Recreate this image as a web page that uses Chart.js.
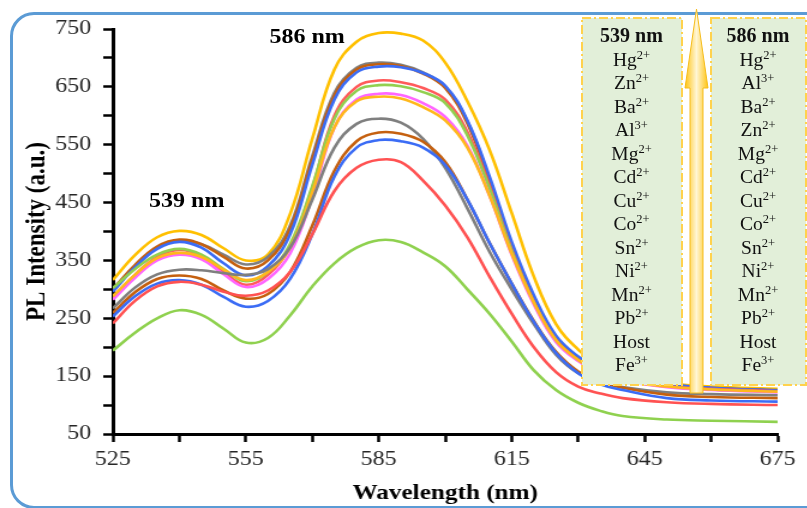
<!DOCTYPE html>
<html>
<head>
<meta charset="utf-8">
<script src="https://cdn.jsdelivr.net/npm/chart.js@4.4.1/dist/chart.umd.min.js"></script>
<style>
  body { margin: 0; width: 807px; height: 508px; overflow: hidden; background: #fff; position: relative; }
  .frame { position: absolute; left: 10px; top: 12px; width: 840px; height: 491px; border: 3px solid #5B9BD5; border-radius: 24px; }
  /* the plot is drawn narrow and widened, like the original figure */
  .plot { position: absolute; left: 0; top: 0; width: 672px; height: 508px; transform: scaleX(1.2); transform-origin: 0 0; }
  .peak { position: absolute; font: bold 20px 'Liberation Serif', serif; transform: translate(-50%, -50%); white-space: nowrap; color: #000; }
  .overlay { position: absolute; left: 0; top: 0; }
  .box { position: absolute; top: 17px; height: 368px; text-align: center; font: 19.5px 'Liberation Serif', serif; line-height: 23.5px; padding-top: 7px; box-sizing: border-box; color: #111; }
  .box b { font-size: 20px; }
  .box sup { font-size: 12.5px; vertical-align: 7px; line-height: 0; }
</style>
</head>
<body>
<div class="frame"></div>
<div class="plot">
  <canvas id="plChart" width="672" height="508"></canvas>
  <div class="peak" style="left:155.6px;top:200px">539 nm</div>
  <div class="peak" style="left:256px;top:36px">586 nm</div>
</div>
<svg class="overlay" width="807" height="508">
  <defs>
    <linearGradient id="arrowFill" gradientUnits="userSpaceOnUse" x1="684" y1="0" x2="709" y2="0">
      <stop offset="0" stop-color="#FFC000"/>
      <stop offset="0.24" stop-color="#FFD966"/>
      <stop offset="0.5" stop-color="#FFF6D5"/>
      <stop offset="0.76" stop-color="#FFD966"/>
      <stop offset="1" stop-color="#FFC000"/>
    </linearGradient>
  </defs>
  <rect x="582" y="18" width="100" height="367" fill="#E2EFD9" stroke="#FFD24D" stroke-width="2" stroke-dasharray="9 3 2 3"/>
  <rect x="711" y="18" width="95" height="367" fill="#E2EFD9" stroke="#FFD24D" stroke-width="2" stroke-dasharray="9 3 2 3"/>
  <polygon points="690,393 690,88 685,88 696.5,9 708,88 703,88 703,393" fill="url(#arrowFill)" stroke="#F5BD1F" stroke-width="1"/>
</svg>
<div class="box" id="box539" style="left:581px;width:101px"></div>
<div class="box" id="box586" style="left:710px;width:96px"></div>

<script>
// ===== Wavelength grid (nm) =====
const wavelengths = [525, 530, 535, 540, 545, 550, 555, 560, 565, 570, 575, 580, 585, 590,
                     595, 600, 605, 610, 615, 620, 625, 630, 635, 640, 650, 660, 675];

// ===== PL intensity (a.u.) for each metal ion =====
const hg = [316, 359, 390, 401, 394, 371, 350, 360, 430, 560, 680, 728, 743, 742, 730, 692, 625, 541, 432, 322, 240, 196, 168, 150, 138, 132, 128];
const al = [298, 340, 372, 384, 378, 360, 343, 356, 410, 530, 640, 683, 692, 688, 675, 650, 590, 490, 375, 284, 216, 182, 160, 147, 136, 130, 126];
const ba = [300, 342, 374, 386, 378, 356, 336, 350, 405, 525, 635, 680, 689, 686, 673, 648, 587, 487, 372, 282, 215, 181, 159, 146, 135, 129, 125];
const zn = [296, 338, 370, 382, 372, 345, 324, 340, 395, 515, 628, 675, 685, 684, 674, 652, 592, 495, 382, 290, 220, 184, 161, 147, 136, 130, 125];
const mg = [284, 325, 356, 368, 358, 330, 308, 325, 375, 475, 600, 650, 661, 658, 648, 628, 572, 478, 368, 278, 212, 178, 157, 144, 133, 128, 124];
const cd = [302, 335, 360, 370, 360, 335, 314, 330, 378, 478, 595, 643, 653, 651, 641, 622, 566, 474, 366, 277, 211, 177, 156, 143, 132, 127, 123];
const cu = [282, 320, 350, 360, 352, 326, 304, 318, 362, 460, 580, 628, 638, 636, 622, 598, 548, 462, 360, 274, 209, 176, 155, 142, 131, 126, 122];
const co = [288, 325, 354, 363, 356, 334, 316, 330, 372, 468, 580, 625, 633, 630, 615, 592, 545, 462, 362, 277, 212, 178, 156, 143, 132, 127, 123];
const sn = [267, 303, 326, 334, 333, 328, 325, 335, 372, 455, 545, 586, 595, 588, 560, 510, 440, 365, 300, 240, 187, 155, 140, 131, 122, 119, 117];
const ni = [259, 295, 318, 324, 318, 298, 284, 292, 330, 410, 505, 556, 571, 569, 555, 520, 455, 380, 310, 245, 192, 158, 140, 130, 118, 114, 112];
const mn = [253, 288, 310, 316, 308, 287, 270, 280, 318, 395, 495, 545, 558, 556, 545, 515, 455, 380, 310, 244, 190, 155, 136, 126, 112, 108, 106];
const pb = [241, 280, 305, 313, 308, 296, 289, 298, 330, 395, 470, 510, 524, 520, 488, 445, 390, 322, 258, 200, 157, 132, 120, 112, 105, 102, 100];
const fe = [194, 225, 250, 264, 256, 232, 208, 216, 255, 305, 345, 372, 385, 382, 364, 340, 300, 258, 210, 160, 126, 104, 90, 81, 75, 73, 71];

// ===== Order of the ions at each band =====
const order539 = [['Hg', '2+'], ['Zn', '2+'], ['Ba', '2+'], ['Al', '3+'], ['Mg', '2+'], ['Cd', '2+'], ['Cu', '2+'],
                  ['Co', '2+'], ['Sn', '2+'], ['Ni', '2+'], ['Mn', '2+'], ['Pb', '2+'], ['Host', ''], ['Fe', '3+']];
const order586 = [['Hg', '2+'], ['Al', '3+'], ['Ba', '2+'], ['Zn', '2+'], ['Mg', '2+'], ['Cd', '2+'], ['Cu', '2+'],
                  ['Co', '2+'], ['Sn', '2+'], ['Ni', '2+'], ['Mn', '2+'], ['Pb', '2+'], ['Host', ''], ['Fe', '3+']];

function fillBox(id, title, rows) {
    const box = document.getElementById(id);
    box.innerHTML = `<b>${title}</b>` + rows.map(r => `<div>${r[0]}${r[1] ? `<sup>${r[1]}</sup>` : ''}</div>`).join('');
}
fillBox('box539', '539 nm', order539);
fillBox('box586', '586 nm', order586);

// ===== Curves =====
const series = [
    ['Fe3+', fe, '#8FD14F'],
    ['Pb2+', pb, '#FF5252'],
    ['Mn2+', mn, '#3B6CF5'],
    ['Ni2+', ni, '#C5600F'],
    ['Sn2+', sn, '#7F7F7F'],
    ['Co2+', co, '#FFB81C'],
    ['Cu2+', cu, '#FF66FF'],
    ['Cd2+', cd, '#92D050'],
    ['Mg2+', mg, '#FF5B5B'],
    ['Zn2+', zn, '#3B6CF5'],
    ['Ba2+', ba, '#C5600F'],
    ['Al3+', al, '#808080'],
    ['Hg2+', hg, '#FFC000']
];

const serif = "'Liberation Serif', 'Times New Roman', serif";

new Chart(document.getElementById('plChart'), {
    type: 'line',
    data: {
        labels: wavelengths,
        datasets: series.map(([label, values, color]) => ({
            label,
            data: values,
            borderColor: color,
            borderWidth: 2.6,
            pointRadius: 0,
            fill: false,
            tension: 0.4
        }))
    },
    options: {
        responsive: false,
        animation: false,
        layout: { padding: { left: 0, right: 24, top: 29, bottom: 0 } },
        plugins: { legend: { display: false }, tooltip: { enabled: false } },
        scales: {
            x: {
                type: 'linear',
                min: 525,
                max: 675,
                afterFit: s => { s.height = 74; },
                border: { color: '#000', width: 3 },
                grid: { drawOnChartArea: false, tickLength: 8, tickColor: '#000', tickWidth: 2.5 },
                ticks: {
                    stepSize: 15,
                    autoSkip: false,
                    maxRotation: 0,
                    padding: 6,
                    color: '#262626',
                    font: { family: serif, size: 20 },
                    callback: v => (v - 525) % 30 === 0 ? v : ''
                },
                title: {
                    display: true,
                    text: 'Wavelength (nm)',
                    color: '#000',
                    font: { family: serif, size: 21, weight: 'bold' },
                    padding: { top: 0, bottom: 2 }
                }
            },
            y: {
                min: 50,
                max: 750,
                afterFit: s => { s.width = 94; },
                border: { color: '#000', width: 3 },
                grid: { drawOnChartArea: false, tickLength: 8, tickColor: '#000', tickWidth: 2.5 },
                ticks: {
                    stepSize: 50,
                    autoSkip: false,
                    padding: 10,
                    color: '#262626',
                    font: { family: serif, size: 20 },
                    callback: v => (v - 50) % 100 === 0 ? v : ''
                },
                title: {
                    display: true,
                    text: 'PL Intensity (a.u.)',
                    color: '#000',
                    font: { family: serif, size: 23, weight: 'bold' },
                    padding: { top: 17, bottom: 0 }
                }
            }
        }
    }
});
</script>
</body>
</html>
